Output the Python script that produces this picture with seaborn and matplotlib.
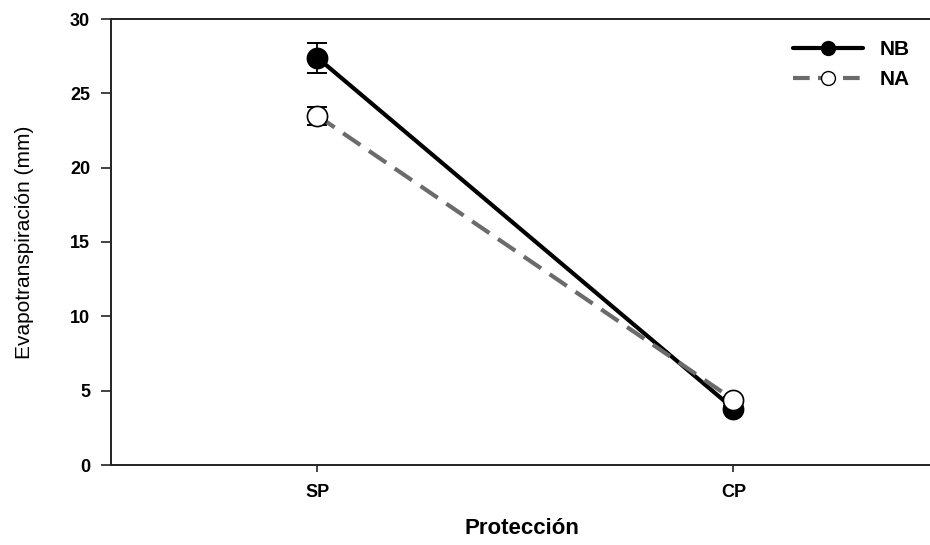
import pandas as pd
import matplotlib.pyplot as plt
import seaborn as sns
from matplotlib.lines import Line2D

# data
proteccion = ['SP', 'CP']
nb_mean = [27.4, 3.8]
nb_err = [1.0, 0.2]
na_mean = [23.5, 4.4]
na_err = [0.6, 0.2]

df = pd.DataFrame({
    'Protección': proteccion * 2,
    'ET': nb_mean + na_mean,
    'err': nb_err + na_err,
    'Nivel': ['NB'] * 2 + ['NA'] * 2,
})

sns.set_style('ticks')
plt.rcParams['font.family'] = ['Liberation Sans', 'DejaVu Sans']
plt.rcParams['text.color'] = 'black'
plt.rcParams['axes.labelcolor'] = 'black'
plt.rcParams['xtick.color'] = 'black'
plt.rcParams['ytick.color'] = 'black'

fig = plt.figure(figsize=(9.3, 5.45), dpi=100)
ax = fig.add_axes([111 / 930, 80 / 545, 822 / 930, 446 / 545])

styles = {
    'NB': dict(color='black', ls='-', mfc='black'),
    'NA': dict(color='#6b6b6b', ls=(0, (5, 2.5)), mfc='white'),
}

for nivel in ['NB', 'NA']:
    sub = df[df['Nivel'] == nivel]
    st = styles[nivel]
    sns.lineplot(data=sub, x='Protección', y='ET', ax=ax, color=st['color'],
                 linestyle=st['ls'], linewidth=3, sort=False, legend=False,
                 marker='o', markersize=14.5, markerfacecolor=st['mfc'],
                 markeredgecolor='black', markeredgewidth=1.2, zorder=3)
    ax.errorbar(sub['Protección'], sub['ET'], yerr=sub['err'], fmt='none',
                ecolor='black', elinewidth=1.3, capsize=7, capthick=1.4, zorder=2)

ax.set_xlim(-0.496, 1.48)
ax.set_ylim(0, 30)
ax.set_yticks([0, 5, 10, 15, 20, 25, 30])
ax.spines['right'].set_visible(False)
for s in ['left', 'bottom', 'top']:
    ax.spines[s].set_linewidth(1.4)
    ax.spines[s].set_color('#222222')
ax.tick_params(axis='y', direction='out', length=7, width=1.2, color='#222222', pad=8)
ax.tick_params(axis='x', direction='out', length=5, width=1.2, color='#222222', pad=9)
for lab in ax.get_xticklabels() + ax.get_yticklabels():
    lab.set_fontweight('bold')
    lab.set_fontsize(13)

ax.set_xlabel('Protección', fontsize=16, fontweight='bold', labelpad=12)
ax.set_ylabel('Evapotranspiración (mm)', fontsize=15, labelpad=26)

handles = [
    Line2D([], [], color='black', lw=3, marker='o', markersize=10,
           markerfacecolor='black', markeredgecolor='black'),
    Line2D([], [], color='#6b6b6b', lw=3, ls=(0, (4, 2)), marker='o', markersize=10,
           markerfacecolor='white', markeredgecolor='black'),
]
ax.legend(handles, ['NB', 'NA'], loc='upper right', bbox_to_anchor=(0.995, 0.995),
          frameon=False, handlelength=3.4, prop={'weight': 'bold', 'size': 15},
          labelspacing=0.55, handletextpad=0.8)

fig.savefig('out.png', dpi=100)
